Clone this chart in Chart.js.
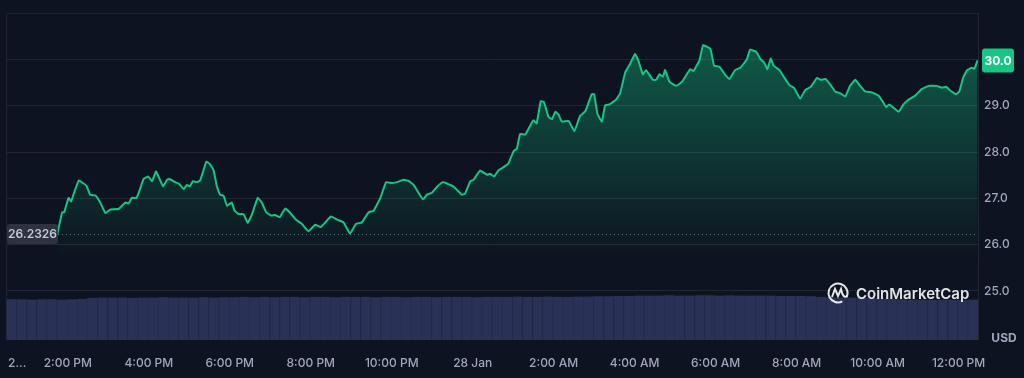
<!DOCTYPE html>
<html lang="en">
<head>
    <meta charset="UTF-8">
    <title>Price chart</title>
    <script src="https://cdn.jsdelivr.net/npm/chart.js"></script>
    <style>
        body {
            margin: 0;
            background: #0d1320;
        }
        canvas {
            display: block;
        }
    </style>
</head>
<body>

<canvas id="priceChart" width="1024" height="378"></canvas>

<script>
    // Price: hours since 12:00 PM on 27 Jan, and the price in USD
    const priceTimes = [
        1.74, 1.86, 1.91, 2.02, 2.08, 2.13, 2.27, 2.39, 2.46, 2.55, 2.68, 2.80, 2.93, 3.05, 3.25, 3.42, 3.50, 3.58, 3.69, 3.75,
        3.87, 3.99, 4.08, 4.18, 4.35, 4.45, 4.51, 4.65, 4.74, 4.86, 4.94, 5.01, 5.09, 5.19, 5.27, 5.42, 5.50, 5.60, 5.68, 5.76,
        5.85, 5.93, 6.05, 6.12, 6.22, 6.34, 6.44, 6.55, 6.69, 6.79, 6.90, 7.02, 7.12, 7.23, 7.37, 7.48,
        7.62, 7.78, 7.94, 8.11, 8.25, 8.50, 8.65, 8.81, 8.97, 9.12, 9.26, 9.43, 9.55, 9.72, 9.86, 10.00, 10.13, 10.29, 10.41, 10.54,
        10.77, 10.87, 10.99, 11.12, 11.26, 11.36, 11.53, 11.73, 11.81, 11.94, 12.02, 12.18, 12.35, 12.43, 12.53, 12.64, 12.72, 12.88,
        13.01, 13.09, 13.17,
        13.30, 13.42, 13.50, 13.58, 13.68, 13.76, 13.87, 13.96, 14.04, 14.12, 14.20, 14.37, 14.51, 14.65, 14.78, 14.94, 15.00, 15.08,
        15.19, 15.27, 15.38, 15.54, 15.64, 15.77, 15.89, 16.01, 16.09, 16.20, 16.28, 16.45, 16.53, 16.61, 16.70, 16.75, 16.86, 17.03,
        17.17, 17.37, 17.45, 17.60, 17.69, 17.87, 17.96, 18.10, 18.24, 18.34, 18.48, 18.61, 18.77, 18.85, 19.00, 19.10, 19.20, 19.28,
        19.36, 19.43, 19.58, 19.68, 19.82, 19.94, 20.09, 20.21, 20.35, 20.50, 20.60, 20.71, 20.83, 20.95, 21.08, 21.20, 21.32, 21.45,
        21.55, 21.69, 21.86, 22.02, 22.15, 22.21, 22.29, 22.39, 22.52, 22.64, 22.76, 22.93, 23.09, 23.26, 23.46, 23.59, 23.69, 23.81,
        23.94, 24.02, 24.11, 24.21, 24.33, 24.39, 24.47
    ];
    const priceValues = [
        26.23, 26.70, 26.70, 27.01, 26.93, 27.06, 27.39, 27.32, 27.27, 27.08, 27.06, 26.91, 26.68, 26.76, 26.77, 26.91, 26.89, 27.01, 27.01, 27.12,
        27.42, 27.47, 27.37, 27.58, 27.26, 27.40, 27.42, 27.35, 27.32, 27.20, 27.29, 27.26, 27.37, 27.35, 27.39, 27.79, 27.75, 27.61, 27.26, 27.08,
        27.05, 26.84, 26.91, 26.73, 26.66, 26.66, 26.47, 26.66, 27.01, 26.91, 26.70, 26.63, 26.64, 26.59, 26.78, 26.70,
        26.55, 26.45, 26.29, 26.43, 26.38, 26.61, 26.54, 26.48, 26.24, 26.45, 26.48, 26.70, 26.73, 27.01, 27.35, 27.33, 27.35, 27.40, 27.38, 27.29,
        26.98, 27.08, 27.12, 27.25, 27.35, 27.32, 27.25, 27.08, 27.10, 27.37, 27.40, 27.60, 27.51, 27.53, 27.47, 27.61, 27.65, 27.75,
        28.02, 28.07, 28.39,
        28.38, 28.57, 28.69, 28.62, 29.10, 29.08, 28.76, 28.71, 28.87, 28.81, 28.66, 28.67, 28.45, 28.78, 28.88, 29.25, 29.25, 28.83,
        28.66, 29.01, 29.03, 29.13, 29.27, 29.73, 29.91, 30.12, 29.98, 29.68, 29.77, 29.56, 29.56, 29.68, 29.63, 29.77, 29.52, 29.43,
        29.52, 29.79, 29.75, 29.98, 30.31, 30.23, 29.87, 29.84, 29.66, 29.58, 29.77, 29.82, 30.00, 30.21, 30.17, 30.02, 29.93, 29.79,
        30.02, 29.87, 29.77, 29.63, 29.45, 29.38, 29.15, 29.34, 29.41, 29.60, 29.56, 29.58, 29.46, 29.31, 29.27, 29.20, 29.43, 29.56,
        29.45, 29.31, 29.29, 29.22, 29.06, 28.97, 29.03, 28.96, 28.87, 29.03, 29.13, 29.22, 29.36, 29.43, 29.43, 29.39, 29.41, 29.32,
        29.25, 29.31, 29.60, 29.77, 29.82, 29.80, 29.98
    ];

    // Volume, one bar per 15 minutes (millions, rough read)
    const volumeStart = 0.605;
    const volumeStep = 0.25;
    const volumeValues = [
        12.5, 12.5, 12.4, 12.5, 12.5, 12.4, 12.5, 12.6,
        12.9, 13.0, 13.0, 13.0, 12.9, 13.0, 13.0, 13.1, 13.0, 13.0, 13.0, 13.1, 13.0, 13.1, 13.1, 13.2,
        13.1, 13.2, 13.1, 13.2, 13.2, 13.1, 13.2, 13.2, 13.1, 13.2, 13.2, 13.2, 13.1, 13.2, 13.2, 13.1, 13.2, 13.2, 13.1, 13.2,
        13.2, 13.2, 13.1, 13.2, 13.2, 13.2, 13.3, 13.2, 13.2, 13.3, 13.2, 13.2, 13.3, 13.3, 13.4, 13.4, 13.5, 13.5,
        13.6, 13.6, 13.6, 13.7, 13.6, 13.6, 13.7, 13.7, 13.6, 13.7, 13.6, 13.6, 13.6, 13.6, 13.5, 13.5, 13.5, 13.4, 13.2,
        13.1, 13.0, 13.0, 12.9, 12.8, 12.7, 12.6, 12.5,
        12.4, 12.4, 12.3, 12.4, 12.4, 12.3, 12.4
    ];
    const volumeTimes = volumeValues.map((v, i) => volumeStart + i * volumeStep);

    // x axis labels
    const tickHours = [0.75, 2, 4, 6, 8, 10, 12, 14, 16, 18, 20, 22, 24];
    const tickLabels = ['2...', '2:00 PM', '4:00 PM', '6:00 PM', '8:00 PM', '10:00 PM', '28 Jan',
        '2:00 AM', '4:00 AM', '6:00 AM', '8:00 AM', '10:00 AM', '12:00 PM'];
    const priceTicks = [25, 26, 27, 28, 29, 30];
    const openPrice = 26.2326;

    const green = '#16c784';
    const gridColor = '#222632';
    const textColor = '#a1a7bb';
    const fontFamily = 'Inter, "Noto Sans", sans-serif';

    function roundRect(ctx, x, y, w, h, r) {
        ctx.beginPath();
        ctx.moveTo(x + r, y);
        ctx.arcTo(x + w, y, x + w, y + h, r);
        ctx.arcTo(x + w, y + h, x, y + h, r);
        ctx.arcTo(x, y + h, x, y, r);
        ctx.arcTo(x, y, x + w, y, r);
        ctx.closePath();
    }

    const overlay = {
        id: 'overlay',
        beforeDatasetsDraw(chart) {
            const { ctx, chartArea, scales } = chart;
            ctx.save();
            // top and left frame
            ctx.strokeStyle = gridColor;
            ctx.lineWidth = 1;
            ctx.beginPath();
            ctx.moveTo(chartArea.left + 0.5, chartArea.bottom);
            ctx.lineTo(chartArea.left + 0.5, chartArea.top + 0.5);
            ctx.lineTo(chartArea.right, chartArea.top + 0.5);
            ctx.stroke();
            // dotted open price line
            const y = Math.round(scales.y.getPixelForValue(openPrice)) + 0.5;
            ctx.strokeStyle = 'rgba(150,157,178,0.6)';
            ctx.setLineDash([1, 3]);
            ctx.beginPath();
            ctx.moveTo(58, y);
            ctx.lineTo(chartArea.right, y);
            ctx.stroke();
            ctx.restore();
        },
        afterDatasetsDraw(chart) {
            const { ctx, chartArea, scales } = chart;
            ctx.save();
            // open price badge
            const oy = scales.y.getPixelForValue(openPrice);
            roundRect(ctx, 7, oy - 10, 51, 20, 3);
            ctx.fillStyle = 'rgba(52,57,71,0.85)';
            ctx.fill();
            ctx.fillStyle = '#c3c8d4';
            ctx.font = '600 12px ' + fontFamily;
            ctx.textAlign = 'center';
            ctx.textBaseline = 'middle';
            ctx.fillText(openPrice.toFixed(4), 32.5, oy + 1);

            // watermark
            const wx = 838, wy = 293;
            ctx.strokeStyle = 'rgba(255,255,255,0.9)';
            ctx.lineWidth = 2;
            ctx.beginPath();
            ctx.arc(wx, wy, 9.5, Math.PI * 0.35, Math.PI * 2.15);
            ctx.stroke();
            ctx.beginPath();
            ctx.moveTo(wx - 6, wy + 4);
            ctx.lineTo(wx - 3, wy - 4);
            ctx.lineTo(wx, wy + 3);
            ctx.lineTo(wx + 3, wy - 4);
            ctx.quadraticCurveTo(wx + 5, wy + 6, wx + 9, wy + 3);
            ctx.stroke();
            ctx.fillStyle = 'rgba(255,255,255,0.88)';
            ctx.font = '600 15px ' + fontFamily;
            ctx.textAlign = 'left';
            ctx.fillText('CoinMarketCap', 856, wy + 1);

            // current price badge
            const last = priceValues[priceValues.length - 1];
            const py = scales.y.getPixelForValue(last);
            roundRect(ctx, chartArea.right + 4, py - 12, 32, 24, 3);
            ctx.fillStyle = green;
            ctx.fill();
            ctx.fillStyle = '#ffffff';
            ctx.font = '700 12px ' + fontFamily;
            ctx.textAlign = 'center';
            ctx.fillText(last.toFixed(1), chartArea.right + 20, py + 1);

            // currency label
            ctx.fillStyle = textColor;
            ctx.font = '700 12px ' + fontFamily;
            ctx.fillText('USD', 1004, chartArea.bottom - 2);
            ctx.restore();
        }
    };

    const ctx = document.getElementById('priceChart').getContext('2d');
    new Chart(ctx, {
        type: 'line',
        data: {
            datasets: [{
                type: 'line',
                data: priceTimes.map((t, i) => ({ x: t, y: priceValues[i] })),
                yAxisID: 'y',
                borderColor: green,
                borderWidth: 2,
                pointRadius: 0,
                tension: 0.1,
                fill: 'start',
                backgroundColor: function(context) {
                    const area = context.chart.chartArea;
                    if (!area) return 'rgba(22,199,132,0.2)';
                    const g = context.chart.ctx.createLinearGradient(0, area.top + 30, 0, 262);
                    g.addColorStop(0, 'rgba(22,199,132,0.4)');
                    g.addColorStop(1, 'rgba(22,199,132,0.0)');
                    return g;
                },
                order: 0
            }, {
                type: 'bar',
                data: volumeTimes.map((t, i) => ({ x: t, y: volumeValues[i] })),
                yAxisID: 'yVol',
                backgroundColor: '#2a3157',
                borderColor: '#262c51',
                borderWidth: { left: 1, right: 0, top: 0, bottom: 0 },
                borderSkipped: false,
                barPercentage: 1,
                categoryPercentage: 1,
                order: 1
            }]
        },
        options: {
            responsive: false,
            animation: false,
            layout: { padding: { left: 6, top: 6, right: 0, bottom: 0 } },
            plugins: {
                legend: { display: false },
                tooltip: { enabled: false }
            },
            scales: {
                x: {
                    type: 'linear',
                    min: 0.48,
                    max: 24.48,
                    offset: false,
                    grid: { display: false, offset: false },
                    border: { display: false },
                    afterBuildTicks(scale) {
                        scale.ticks = tickHours.map(v => ({ value: v }));
                    },
                    afterFit(scale) {
                        scale.height = 38;
                    },
                    ticks: {
                        autoSkip: false,
                        maxRotation: 0,
                        padding: 8,
                        color: textColor,
                        font: { family: fontFamily, size: 12, weight: '500' },
                        callback: (value, index) => tickLabels[index]
                    }
                },
                y: {
                    position: 'right',
                    min: 23.94,
                    max: 31.0,
                    grid: { color: gridColor, drawTicks: false },
                    border: { display: true, color: gridColor },
                    afterBuildTicks(scale) {
                        scale.ticks = priceTicks.map(v => ({ value: v }));
                    },
                    afterFit(scale) {
                        scale.width = 46;
                    },
                    ticks: {
                        padding: 6,
                        color: textColor,
                        font: { family: fontFamily, size: 12, weight: '500' },
                        callback: value => value.toFixed(1)
                    }
                },
                yVol: {
                    display: false,
                    min: 0,
                    max: 100
                }
            }
        },
        plugins: [overlay]
    });
</script>

</body>
</html>
